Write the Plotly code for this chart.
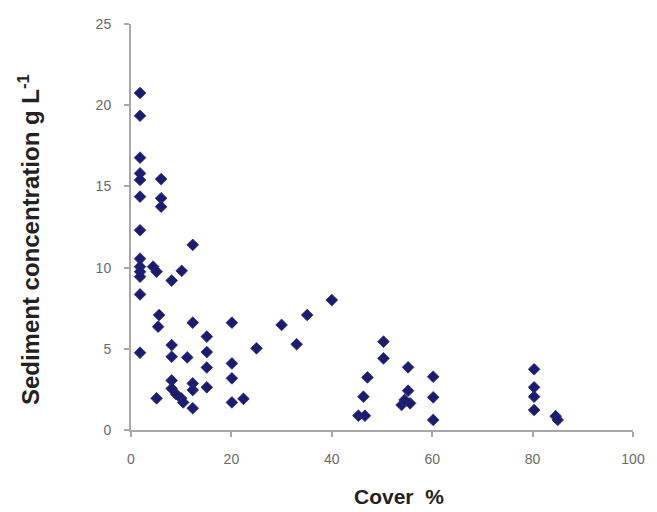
import plotly.graph_objects as go

cover = [1.8, 1.8, 1.8, 1.8, 1.8, 1.8, 1.8, 1.8, 1.8, 1.8, 1.8, 1.8, 1.8,
         4.4, 5.1, 6.0, 6.0, 6.0, 5.6, 5.4, 5.1,
         8.1, 8.1, 8.1, 8.1, 8.1, 9.0, 10.1, 10.0, 10.4, 11.2,
         12.3, 12.3, 12.3, 12.3, 12.3,
         15.1, 15.1, 15.1, 15.1,
         20.1, 20.1, 20.1, 20.1, 22.4, 25.0, 30.0, 33.0, 35.1, 40.0,
         45.3, 46.6, 46.3, 47.1, 50.3, 50.3,
         55.2, 55.2, 53.9, 55.6, 54.5,
         60.2, 60.2, 60.2,
         80.3, 80.3, 80.3, 80.3, 84.6, 85.0]
sediment = [20.75, 19.35, 16.77, 15.8, 15.4, 14.37, 12.3, 10.55, 10.06, 9.75, 9.44, 8.35, 4.76,
            10.06, 9.75, 15.45, 14.27, 13.75, 7.08, 6.36, 1.95,
            9.2, 5.23, 4.51, 3.05, 2.55, 2.2, 9.8, 1.95, 1.7, 4.47,
            11.4, 6.61, 2.87, 2.46, 1.34,
            5.75, 4.8, 3.85, 2.63,
            6.61, 4.1, 3.18, 1.7, 1.92, 5.03, 6.47, 5.28, 7.08, 8.0,
            0.88, 0.88, 2.05, 3.24, 5.44, 4.41,
            3.86, 2.42, 1.54, 1.64, 1.85,
            3.28, 2.01, 0.62,
            3.74, 2.63, 2.05, 1.23, 0.85, 0.62]

x_ticks = [0, 20, 40, 60, 80, 100]
y_ticks = [0, 5, 10, 15, 20, 25]

fig = go.Figure()
fig.add_trace(go.Scatter(
    x=cover, y=sediment, mode="markers",
    marker=dict(symbol="diamond", size=9, color="#1c1c6e",
                line=dict(width=0.8, color="#2a2a80")),
    cliponaxis=False, showlegend=False,
))

axis_common = dict(
    showgrid=False, zeroline=False, showline=True,
    linecolor="#a8a8a8", linewidth=2,
    ticks="outside", tickcolor="#a8a8a8", tickwidth=1.5, ticklen=5,
    tickfont=dict(family="Liberation Sans, Arial", size=14, color="#6a6a6a"),
)

fig.update_layout(
    width=649, height=504,
    margin=dict(l=123, r=24, t=16, b=82, autoexpand=False),
    paper_bgcolor="white", plot_bgcolor="white",
    xaxis=dict(range=[0, 100], tickvals=x_ticks, ticktext=[str(v) for v in x_ticks],
               ticklabelstandoff=10, **axis_common),
    yaxis=dict(range=[0, 25], tickvals=y_ticks, ticktext=[str(v) for v in y_ticks],
               ticklabelstandoff=10, **axis_common),
    annotations=[
        dict(text="<b>Cover  %</b>", xref="paper", yref="paper",
             x=0.534, y=-0.165, xanchor="center", yanchor="middle", showarrow=False,
             font=dict(family="Liberation Sans, Arial", size=21, color="#222222")),
        dict(text="<b>Sediment concentration g L<sup>-1</sup></b>", xref="paper", yref="paper",
             x=-0.203, y=0.468, xanchor="center", yanchor="middle", textangle=-90,
             showarrow=False,
             font=dict(family="Liberation Sans, Arial", size=24, color="#222222")),
    ],
)

fig.write_html("out.html")
